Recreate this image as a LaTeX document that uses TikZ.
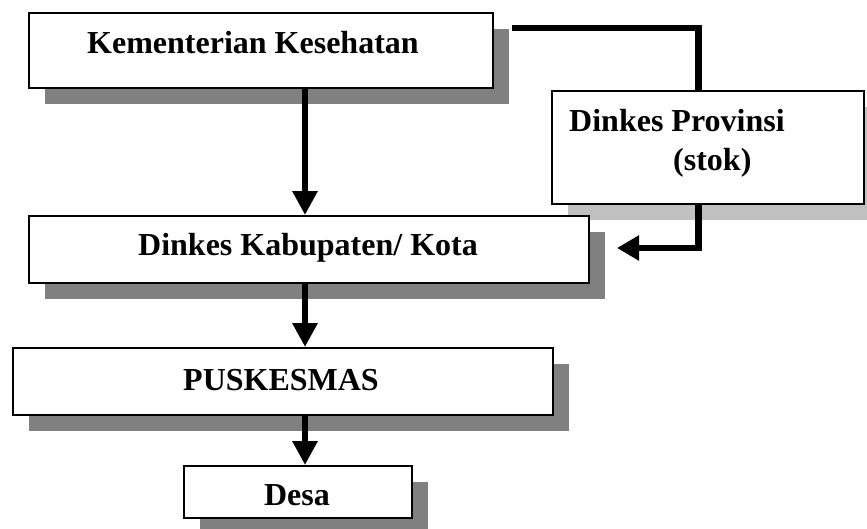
\documentclass[tikz,border=0pt]{standalone}
\usepackage{fontspec}
\setmainfont{Liberation Serif}
\usetikzlibrary{arrows.meta,shadows}
\definecolor{shadowdark}{HTML}{808080}
\definecolor{shadowlight}{HTML}{C0C0C0}
\begin{document}
\begin{tikzpicture}[x=1pt,y=-1pt,
  box/.style={draw=black, line width=1.5pt, fill=white, inner sep=0pt, anchor=north west},
  darkshadow/.style={drop shadow={shadow xshift=16pt, shadow yshift=-16pt, fill=shadowdark, opacity=1}},
  lightshadow/.style={drop shadow={shadow xshift=16pt, shadow yshift=-16pt, fill=shadowlight, opacity=1}},
  txt/.style={font=\fontsize{32}{38}\selectfont\bfseries, inner sep=0pt},
  conn/.style={line width=6.5pt},
  arr/.style={conn, -{Triangle[width=24pt,length=24pt]}},
]
\useasboundingbox (0,0) rectangle (867,528);

% boxes
\node[box, darkshadow, minimum width=464pt, minimum height=75pt] (kem) at (28,12) {};
\node[box, lightshadow, minimum width=312pt, minimum height=113pt] (prov) at (551,90) {};
\node[box, darkshadow, minimum width=560pt, minimum height=67pt] (kab) at (28,215) {};
\node[box, darkshadow, minimum width=540pt, minimum height=67pt] (pusk) at (12,347) {};
\node[box, darkshadow, minimum width=228pt, minimum height=52pt] (desa) at (183,465) {};

% texts
\node[txt, anchor=base west] (tkem) at (87,53) {Kementerian Kesehatan};
\node[txt, anchor=base west] (tprov1) at (569,131) {Dinkes Provinsi};
\node[txt, anchor=base west] (tprov2) at (673,170) {(stok)};
\node[txt, anchor=base] (tkab) at (308,255) {Dinkes Kabupaten/ Kota};
\node[txt, anchor=base] (tpusk) at (281,390) {PUSKESMAS};
\node[txt, anchor=base] (tdesa) at (297,505) {Desa};

% connectors
\coordinate (col) at (305,0);
\draw[arr] (kem.south -| col) -- (kab.north -| col);
\draw[arr] (kab.south -| col) -- (pusk.north -| col);
\draw[arr] (pusk.south -| col) -- (desa.north -| col);

\coordinate (kstart) at (512,28);
\coordinate (pcol) at (698.5,0);
\coordinate (tip) at (617,248);
\draw[conn] (kstart) -| (prov.north -| pcol);
\draw[conn, -{Triangle[width=24pt,length=22pt]}] (prov.south -| pcol) |- (tip);
\end{tikzpicture}
\end{document}
